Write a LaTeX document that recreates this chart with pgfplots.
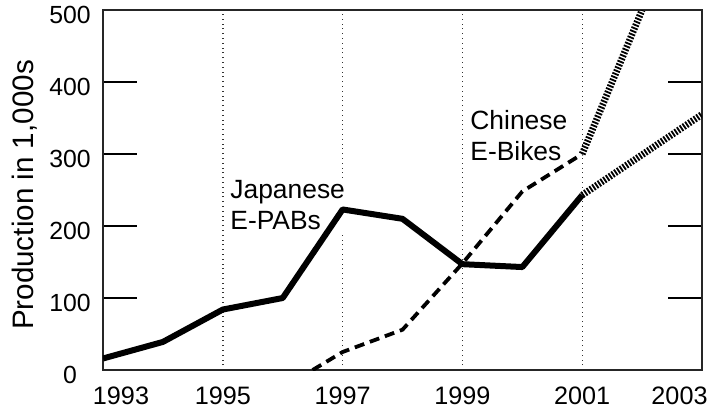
\documentclass[border=0pt]{standalone}
\usepackage{pgfplots}
\pgfplotsset{compat=1.18}
\usepackage{fontspec}
\setmainfont{Liberation Sans}

% 1 px of the reference = 0.5pt
\begin{document}
\begin{tikzpicture}
    \useasboundingbox (-51.5pt,-19.5pt) rectangle (304pt,185pt);
    \begin{axis}[
            at={(0pt,0pt)}, anchor=south west,
            scale only axis,
            width=299.5pt, height=180pt,
            %
            xmin=1993, xmax=2003,
            ymin=0, ymax=500,
            %
            axis line style={line width=1pt, black!85},
            xtick={1995,1997,1999,2001},
            xticklabels={1995,1997,1999,2001},
            xtick style={draw=none},
            xmajorgrids,
            major grid style={dotted, line width=0.7pt, black!80},
            ytick={0,100,200,300,400,500},
            ytick pos=both,
            tick align=inside,
            major tick length=17pt,
            ytick style={line width=0.8pt, black},
            /pgf/number format/assume math mode=true,
            xticklabel style={font=\fontsize{12.6}{14}\selectfont, anchor=north, inner sep=0pt, yshift=-8pt},
            yticklabel style={font=\fontsize{12.4}{14}\selectfont, anchor=center, inner sep=0pt, xshift=-16.5pt, yshift=-2.5pt},
            %
            ylabel={Production in 1,000s},
            every axis y label/.style={at={(axis description cs:-0.13,0.486)}, rotate=90, anchor=center,
                                       font=\fontsize{14.8}{17}\selectfont},
            clip mode=individual,
        ]

        % label boxes sit under the lines
        \node[anchor=north west, inner sep=1pt, fill=white, align=left,
              font=\fontsize{13.2}{15.5}\selectfont]
              at (axis cs:1995.087,266.7) {Japanese\\E-PABs};
        \node[anchor=north west, inner sep=0pt, align=left,
              font=\fontsize{13.2}{15.5}\selectfont]
              at (axis cs:1999.127,361) {Chinese\\E-Bikes};

        % Japanese E-PABs
        \addplot[no markers, black, line width=3pt, line join=round] coordinates {
            (1993, 16)
            (1994, 39)
            (1995, 84)
            (1996, 100)
            (1997, 223)
            (1998, 210)
            (1999, 147)
            (2000, 143)
            (2001, 243)
        };
        \addplot[no markers, black, line width=3.4pt, dash pattern=on 0.9pt off 0.75pt] coordinates {
            (2001, 243)
            (2003, 355)
        };

        % Chinese E-Bikes
        \addplot[no markers, black, line width=1.9pt, dash pattern=on 5pt off 3pt] coordinates {
            (1996.5, 0)
            (1997, 25)
            (1998, 56)
            (1999, 148)
            (2000, 248)
            (2001, 300)
        };
        \addplot[no markers, black, line width=3.4pt, dash pattern=on 0.9pt off 0.75pt] coordinates {
            (2001, 300)
            (2002, 500)
        };

        % end labels sit inside the range
        \node[anchor=north, inner sep=0pt, yshift=-8pt, xshift=9pt, font=\fontsize{12.6}{14}\selectfont]
              at (axis cs:1993,0) {1993};
        \node[anchor=north, inner sep=0pt, yshift=-8pt, xshift=-11.25pt, font=\fontsize{12.6}{14}\selectfont]
              at (axis cs:2003,0) {2003};
    \end{axis}
\end{tikzpicture}
\end{document}
